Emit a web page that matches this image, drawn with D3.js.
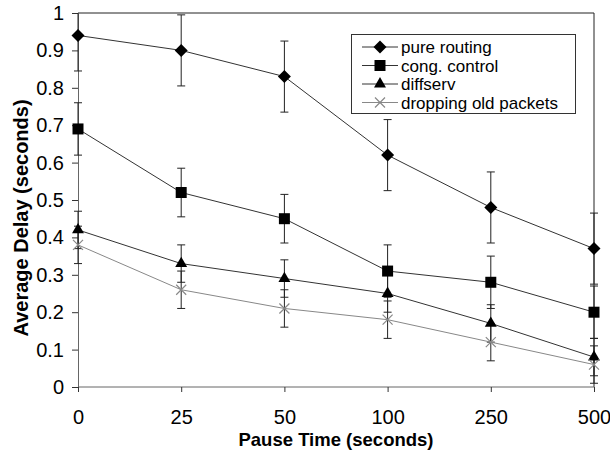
<!DOCTYPE html>
<html>
<head>
<meta charset="utf-8">
<script src="https://cdn.jsdelivr.net/npm/d3@7"></script>
<style>
  body { margin: 0; background: #fff; }
  svg text { font-family: "Liberation Sans", Arial, sans-serif; fill: #000; }
</style>
</head>
<body>
<div class="chart"></div>
<script>
const width = 610;
const height = 452;
const plot = { left: 78, right: 594, top: 13, bottom: 387 };

// data
const pauseTimes = ['0', '25', '50', '100', '250', '500'];
const pureRouting = [0.94, 0.90, 0.83, 0.62, 0.48, 0.37];
const congControl = [0.69, 0.52, 0.45, 0.31, 0.28, 0.20];
const diffserv = [0.42, 0.33, 0.29, 0.25, 0.17, 0.08];
const droppingOld = [0.38, 0.26, 0.21, 0.18, 0.12, 0.06];
const errPure = [0.095, 0.095, 0.095, 0.095, 0.095, 0.095];
const errCong = [0.07, 0.065, 0.065, 0.07, 0.07, 0.07];
const errDiff = [0.05, 0.05, 0.05, 0.05, 0.05, 0.05];
const errDrop = [0.05, 0.05, 0.05, 0.05, 0.05, 0.05];
const seriesNames = ['pure routing', 'cong. control', 'diffserv', 'dropping old packets'];
const yTicks = [0, 0.1, 0.2, 0.3, 0.4, 0.5, 0.6, 0.7, 0.8, 0.9, 1];

const series = [
    { name: seriesNames[0], values: pureRouting, err: errPure, marker: 'diamond', color: '#333' },
    { name: seriesNames[1], values: congControl, err: errCong, marker: 'square', color: '#333' },
    { name: seriesNames[2], values: diffserv, err: errDiff, marker: 'triangle', color: '#333' },
    { name: seriesNames[3], values: droppingOld, err: errDrop, marker: 'x', color: '#888' }
];

const svg = d3.select('.chart').append('svg')
    .attr('width', width)
    .attr('height', height);

const xScale = d3.scalePoint()
    .domain(pauseTimes)
    .range([plot.left, plot.right]);
const yScale = d3.scaleLinear()
    .domain([0, 1])
    .range([plot.bottom, plot.top]);

svg.append('defs').append('clipPath').attr('id', 'clipY')
    .append('rect')
    .attr('x', 0).attr('y', plot.top)
    .attr('width', width).attr('height', plot.bottom - plot.top);

/*      plot frame (top + right)      */
svg.append('path')
    .attr('d', `M${plot.left},${plot.top}H${plot.right}V${plot.bottom}`)
    .attr('fill', 'none')
    .attr('stroke', '#222')
    .attr('stroke-width', 1);

/*      y axis       */
const yAxis = svg.append('g')
    .attr('transform', `translate(${plot.left},0)`)
    .call(d3.axisLeft(yScale).tickValues(yTicks).tickSize(6).tickPadding(8)
        .tickFormat(d => d3.format('~g')(d)));
yAxis.select('.domain').attr('stroke', '#666');
yAxis.selectAll('.tick line').attr('stroke', '#333');
yAxis.selectAll('text').style('font-size', '20px');

/*      x axis       */
const xAxis = svg.append('g')
    .attr('transform', `translate(0,${plot.bottom})`)
    .call(d3.axisBottom(xScale).tickSize(5).tickPadding(18));
xAxis.select('.domain').attr('d', `M${plot.left},0H${plot.right}`).attr('stroke', '#666');
xAxis.selectAll('.tick line').attr('stroke', '#333');
xAxis.selectAll('text').style('font-size', '20px');

/*      axis titles      */
svg.append('text')
    .attr('x', 336)
    .attr('y', 446)
    .attr('text-anchor', 'middle')
    .style('font-size', '18.5px')
    .style('font-weight', 'bold')
    .text('Pause Time (seconds)');
svg.append('text')
    .attr('transform', `translate(28,218) rotate(-90)`)
    .attr('text-anchor', 'middle')
    .style('font-size', '20px')
    .style('font-weight', 'bold')
    .text('Average Delay (seconds)');

function markerPath(type) {
    if (type === 'diamond') return 'M0,-6.5L6.5,0L0,6.5L-6.5,0Z';
    if (type === 'square') return d3.symbol(d3.symbolSquare, 121)();
    if (type === 'triangle') return d3.symbol(d3.symbolTriangle, 62)();
    return 'M-5,-5L5,5M-5,5L5,-5';
}
function drawMarker(g, type, color) {
    const p = g.append('path').attr('d', markerPath(type));
    if (type === 'x') p.attr('fill', 'none').attr('stroke', color).attr('stroke-width', 1.2);
    else p.attr('fill', '#000');
}

const line = d3.line()
    .x((d, i) => xScale(pauseTimes[i]))
    .y(d => yScale(d));

/*      error bars      */
const errG = svg.append('g').attr('clip-path', 'url(#clipY)');
series.forEach(s => {
    s.values.forEach((v, i) => {
        const x = xScale(pauseTimes[i]);
        const y1 = yScale(v + s.err[i]);
        const y2 = yScale(v - s.err[i]);
        errG.append('path')
            .attr('d', `M${x},${y1}V${y2}M${x - 4},${y1}H${x + 4}M${x - 4},${y2}H${x + 4}`)
            .attr('fill', 'none')
            .attr('stroke', '#222')
            .attr('stroke-width', 1);
    });
});

/*      lines and markers      */
series.forEach(s => {
    svg.append('path')
        .datum(s.values)
        .attr('d', line)
        .attr('fill', 'none')
        .attr('stroke', s.color)
        .attr('stroke-width', 1);
    s.values.forEach((v, i) => {
        const g = svg.append('g')
            .attr('transform', `translate(${xScale(pauseTimes[i])},${yScale(v)})`);
        drawMarker(g, s.marker, s.color);
    });
});

/*      legend      */
const legend = svg.append('g').attr('transform', 'translate(351,34)');
legend.append('rect')
    .attr('x', 0.5).attr('y', 0.5)
    .attr('width', 224).attr('height', 79)
    .attr('fill', '#fff')
    .attr('stroke', '#333');
series.forEach((s, i) => {
    const row = legend.append('g').attr('transform', `translate(0,${13 + i * 18.5})`);
    row.append('line')
        .attr('x1', 11).attr('x2', 47)
        .attr('stroke', s.color);
    drawMarker(row.append('g').attr('transform', 'translate(29,0)'), s.marker, s.color);
    row.append('text')
        .attr('x', 50).attr('y', 6)
        .style('font-size', '17px')
        .text(s.name);
});
</script>
</body>
</html>
